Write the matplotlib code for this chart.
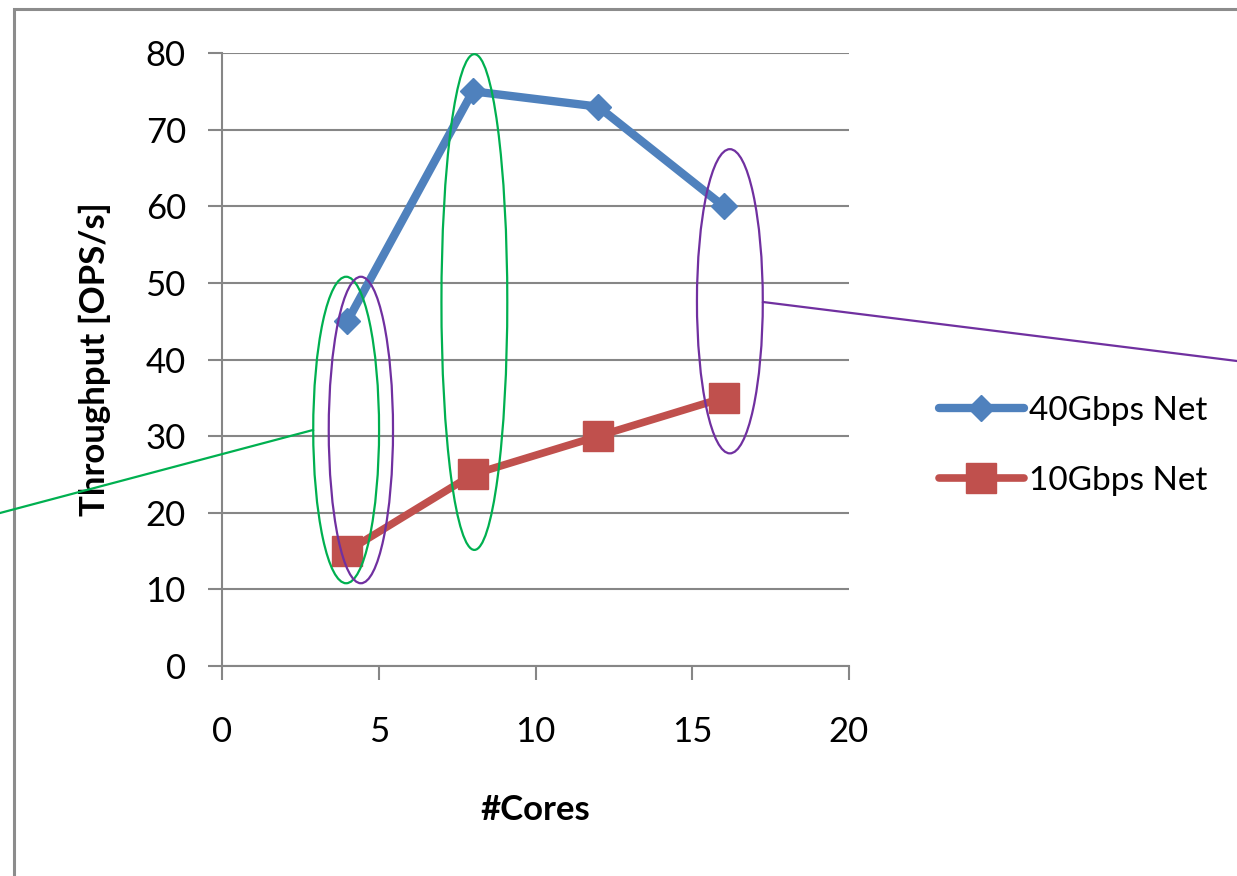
import matplotlib
matplotlib.use("Agg")
import matplotlib.pyplot as plt
from matplotlib.patches import Ellipse, Rectangle
from matplotlib.lines import Line2D

cores = [4, 8, 12, 16]
net40 = [45, 75, 73, 60]
net10 = [15, 25, 30, 35]
series_labels = ["40Gbps Net", "10Gbps Net"]
xticks = [0, 5, 10, 15, 20]
yticks = [0, 10, 20, 30, 40, 50, 60, 70, 80]

plt.rcParams['font.family'] = ['Lato', 'DejaVu Sans']

W, H = 1237, 876
fig = plt.figure(figsize=(W / 100, H / 100), dpi=100)
ax = fig.add_axes([222 / W, 1 - 666 / H, (849 - 222) / W, (666 - 53) / H])

gray = '#868686'
blue = '#4F81BD'
red = '#C0504D'
green = '#00B050'
purple = '#7030A0'

ax.plot(cores, net40, color=blue, lw=6, marker='D', ms=13.5, label=series_labels[0],
        solid_capstyle='round', zorder=5)
ax.plot(cores, net10, color=red, lw=5.5, marker='s', ms=21, label=series_labels[1],
        solid_capstyle='round', zorder=5)

ax.set_xlim(0, 20)
ax.set_ylim(0, 80)
ax.set_xticks(xticks)
ax.set_yticks(yticks)
ax.tick_params(axis='both', which='major', length=10, width=1.5, color=gray,
               labelsize=25, direction='out')
ax.tick_params(axis='x', pad=26)
ax.tick_params(axis='y', pad=16)
for s in ['top', 'right']:
    ax.spines[s].set_visible(False)
for s in ['left', 'bottom']:
    ax.spines[s].set_color(gray)
    ax.spines[s].set_linewidth(1.5)
ax.yaxis.grid(True, color=gray, lw=1.5)
ax.set_axisbelow(True)

ax.set_xlabel('#Cores', fontsize=25, fontweight='bold', labelpad=33)
ax.set_ylabel('Throughput [OPS/s]', fontsize=25, fontweight='bold', labelpad=25)

# highlight ellipses
ax.add_patch(Ellipse((3.96, 30.8), 2.1, 40.0, fill=False, ec=green, lw=1.6, zorder=6, clip_on=False))
ax.add_patch(Ellipse((4.43, 30.8), 2.05, 40.0, fill=False, ec=purple, lw=1.6, zorder=6, clip_on=False))
ax.add_patch(Ellipse((8.05, 47.5), 2.1, 64.7, fill=False, ec=green, lw=1.6, zorder=6, clip_on=False))
ax.add_patch(Ellipse((16.2, 47.6), 2.1, 39.7, fill=False, ec=purple, lw=1.6, zorder=6, clip_on=False))

# connector lines
fig.add_artist(Line2D([0, 313 / W], [1 - 513 / H, 1 - 430 / H], color=green, lw=1.6))
fig.add_artist(Line2D([763 / W, 1.0], [1 - 302 / H, 1 - 361 / H], color=purple, lw=1.6))

# outer frame
fig.add_artist(Rectangle((14 / W, -0.1), 1.2, 1.1 - 8.5 / H, transform=fig.transFigure,
                         fill=False, ec='#8C8C8C', lw=2.2, clip_on=False))

leg = fig.legend(loc='center left', bbox_to_anchor=(922 / W, 1 - 446 / H), frameon=False,
                 fontsize=24, handlelength=2.55, handletextpad=0.15, labelspacing=1.2,
                 numpoints=1, borderpad=0)

fig.savefig('out.png', dpi=100)
